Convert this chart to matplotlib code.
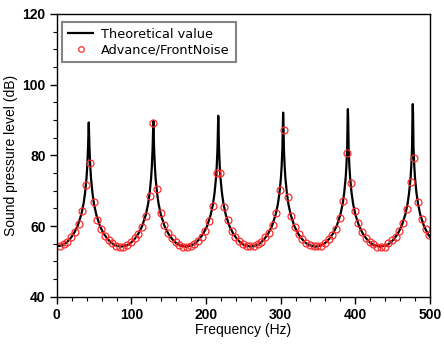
import matplotlib
matplotlib.use("Agg")
import matplotlib.pyplot as plt
from matplotlib.ticker import MultipleLocator

plt.rcParams['font.family'] = ['Liberation Sans', 'DejaVu Sans']

# measured points (Advance/FrontNoise)
meas_freq = [4.3, 9.3, 14.3, 19.3, 24.3, 29.3, 34.3, 39.3, 44.3, 49.3,
             54.3, 59.3, 64.3, 69.3, 74.3, 79.3, 84.3, 89.3, 94.3, 99.3,
             104.3, 109.3, 114.3, 119.3, 124.3, 129.3, 134.3, 139.3, 144.3, 149.3,
             154.3, 159.3, 164.3, 169.3, 174.3, 179.3, 184.3, 189.3, 194.3, 199.3,
             204.3, 209.3, 214.3, 219.3, 224.3, 229.3, 234.3, 239.3, 244.3, 249.3,
             254.3, 259.3, 264.3, 269.3, 274.3, 279.3, 284.3, 289.3, 294.3, 299.3,
             304.3, 309.3, 314.3, 319.3, 324.3, 329.3, 334.3, 339.3, 344.3, 349.3,
             354.3, 359.3, 364.3, 369.3, 374.3, 379.3, 384.3, 389.3, 394.3, 399.3,
             404.3, 409.3, 414.3, 419.3, 424.3, 429.3, 434.3, 439.3, 444.3, 449.3,
             454.3, 459.3, 464.3, 469.3, 474.3, 479.3, 484.3, 489.3, 494.3, 499.3]
meas_db = [54.4, 54.9, 55.6, 56.8, 58.2, 60.6, 64.4, 71.7, 77.8, 66.7,
           61.8, 59.1, 57.2, 56.1, 55.2, 54.5, 54.2, 54.2, 54.7, 55.6,
           56.6, 57.7, 59.7, 62.9, 68.6, 89.1, 70.4, 63.8, 60.2, 58.0,
           56.6, 55.5, 54.7, 54.2, 54.2, 54.4, 55.0, 55.9, 57.0, 58.7,
           61.5, 65.8, 75.1, 75.0, 65.5, 61.6, 58.7, 57.0, 55.9, 55.0,
           54.4, 54.4, 54.5, 55.0, 55.6, 56.8, 58.0, 60.4, 63.8, 70.2,
           87.2, 68.1, 62.9, 59.7, 57.8, 56.3, 55.3, 54.7, 54.3, 54.3,
           54.3, 55.3, 56.3, 57.5, 59.1, 62.2, 67.1, 80.6, 72.1, 64.4,
           60.8, 58.2, 56.6, 55.6, 55.0, 54.2, 54.2, 54.2, 55.2, 56.1,
           57.0, 58.5, 61.0, 64.8, 72.4, 79.2, 66.7, 62.0, 59.2, 57.5]

# theoretical curve
line_freq = [0,
             7.8, 12.8, 17.8, 22.8, 27.8, 32.8, 35.8, 37.8, 39.8, 40.8, 41.8, 42.4, 42.8,
             43.2, 43.8, 44.8, 45.8, 47.8, 49.8, 52.8, 57.8, 62.8, 67.8, 72.8, 77.8, 86.1,
             94.4, 99.4, 104.4, 109.4, 114.4, 119.4, 122.4, 124.4, 126.4, 127.4, 128.4, 129.0, 129.4,
             129.8, 130.4, 131.4, 132.4, 134.4, 136.4, 139.4, 144.4, 149.4, 154.4, 159.4, 164.4, 172.9,
             181.4, 186.4, 191.4, 196.4, 201.4, 206.4, 209.4, 211.4, 213.4, 214.4, 215.4, 216.0, 216.4,
             216.8, 217.4, 218.4, 219.4, 221.4, 223.4, 226.4, 231.4, 236.4, 241.4, 246.4, 251.4, 259.8,
             268.4, 273.4, 278.4, 283.4, 288.4, 293.4, 296.4, 298.4, 300.4, 301.4, 302.4, 303.0, 303.4,
             303.8, 304.4, 305.4, 306.4, 308.4, 310.4, 313.4, 318.4, 323.4, 328.4, 333.4, 338.4, 346.8,
             355.2, 360.2, 365.2, 370.2, 375.2, 380.2, 383.2, 385.2, 387.2, 388.2, 389.2, 389.8, 390.2,
             390.6, 391.2, 392.2, 393.2, 395.2, 397.2, 400.2, 405.2, 410.2, 415.2, 420.2, 425.2, 433.7,
             442.2, 447.2, 452.2, 457.2, 462.2, 467.2, 470.2, 472.2, 474.2, 475.2, 476.2, 476.8, 477.2,
             477.6, 478.2, 479.2, 480.2, 482.2, 484.2, 487.2, 492.2, 497.2, 500]
line_db = [54.3,
           54.6, 55.3, 56.4, 57.9, 60.0, 63.3, 66.3, 69.3, 73.6, 77.0, 82.0, 86.3, 89.3,
           86.3, 82.0, 77.0, 73.6, 69.3, 66.3, 63.3, 60.0, 57.9, 56.4, 55.3, 54.6, 54.2,
           54.6, 55.3, 56.4, 57.9, 60.0, 63.3, 66.3, 69.3, 73.6, 77.0, 82.0, 86.8, 89.8,
           86.8, 82.0, 77.0, 73.6, 69.3, 66.3, 63.3, 60.0, 57.9, 56.4, 55.3, 54.6, 54.2,
           54.6, 55.3, 56.4, 57.9, 60.0, 63.3, 66.3, 69.3, 73.6, 77.0, 82.0, 88.2, 91.2,
           88.2, 82.0, 77.0, 73.6, 69.3, 66.3, 63.3, 60.0, 57.9, 56.4, 55.3, 54.6, 54.2,
           54.6, 55.3, 56.4, 57.9, 60.0, 63.3, 66.3, 69.3, 73.6, 77.0, 82.0, 89.1, 92.1,
           89.1, 82.0, 77.0, 73.6, 69.3, 66.3, 63.3, 60.0, 57.9, 56.4, 55.3, 54.6, 54.2,
           54.6, 55.3, 56.4, 57.9, 60.0, 63.3, 66.3, 69.3, 73.6, 77.0, 82.0, 90.1, 93.1,
           90.1, 82.0, 77.0, 73.6, 69.3, 66.3, 63.3, 60.0, 57.9, 56.4, 55.3, 54.6, 54.2,
           54.6, 55.3, 56.4, 57.9, 60.0, 63.3, 66.3, 69.3, 73.6, 77.0, 82.0, 91.5, 94.5,
           91.5, 82.0, 77.0, 73.6, 69.3, 66.3, 63.3, 60.0, 57.9, 57.0]

fig = plt.figure(figsize=(4.44, 3.48), dpi=100)
ax = fig.add_axes([0.128, 0.147, 0.840, 0.813])

ax.plot(line_freq, line_db, color='black', lw=1.6, label='Theoretical value')
ax.plot(meas_freq, meas_db, 'o', ms=5, mfc='none', mec='#ff2a2a', mew=0.9,
        label='Advance/FrontNoise')

ax.set_xlim(0, 500)
ax.set_ylim(40, 120)
ax.xaxis.set_major_locator(MultipleLocator(100))
ax.xaxis.set_minor_locator(MultipleLocator(20))
ax.yaxis.set_major_locator(MultipleLocator(20))
ax.yaxis.set_minor_locator(MultipleLocator(5))
ax.tick_params(which='both', direction='out', top=False, right=False)
ax.tick_params(which='major', length=5, width=1, labelsize=10, pad=3)
ax.tick_params(which='minor', length=3, width=0.8)
for lab in ax.get_xticklabels() + ax.get_yticklabels():
    lab.set_fontweight('bold')
for s in ax.spines.values():
    s.set_linewidth(1)

ax.set_xlabel('Frequency (Hz)', fontsize=10, labelpad=1)
ax.set_ylabel('Sound pressure level (dB)', fontsize=10, labelpad=3)

leg = ax.legend(loc='upper left', frameon=True, fancybox=False,
                prop={'family': 'DejaVu Sans', 'size': 9.3},
                edgecolor='#666666', borderpad=0.45, handlelength=2.0,
                handletextpad=0.6, labelspacing=0.2, markerscale=0.8,
                borderaxespad=0, bbox_to_anchor=(0.0134, 0.972))
leg.get_frame().set_linewidth(1.5)

fig.savefig('out.png', dpi=100)
